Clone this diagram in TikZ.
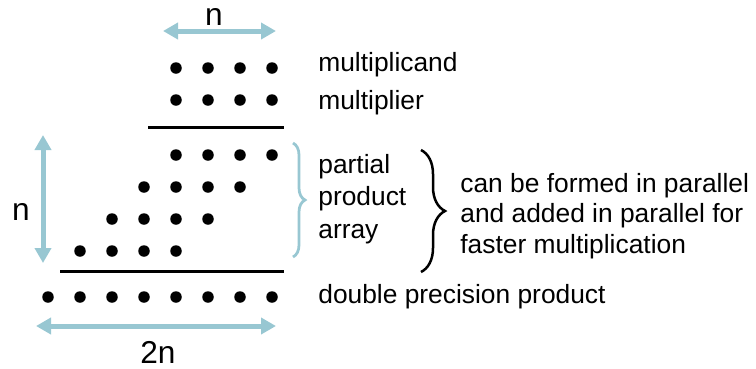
\documentclass[tikz,border=0pt]{standalone}
\usepackage{fontspec}
\setmainfont{Liberation Sans}
\definecolor{dimblue}{RGB}{152,199,210}
\definecolor{ink}{RGB}{0,0,0}
\usetikzlibrary{arrows.meta,decorations.pathreplacing}

\begin{document}
\begin{tikzpicture}[x=0.2mm, y=-0.2mm,
    bit/.style={circle, fill=ink, inner sep=0pt, minimum size=2.3mm},
    rule/.style={ink, line width=0.6mm},
    dimarrow/.style={dimblue, line width=1mm,
      {Triangle[length=3mm,width=3.2mm]}-{Triangle[length=3mm,width=3.2mm]}},
    dimlbl/.style={font=\fontsize{18}{20}\selectfont, inner sep=0pt},
    lbl/.style={font=\fontsize{15}{18.5}\selectfont, anchor=base west, inner sep=0pt, align=left}]
  \useasboundingbox (0,0) rectangle (756,368);
  % multiplicand and multiplier
  \foreach \i in {1,...,4} {
    \node[bit] (mc\i) at ({144+32*\i},68) {};
    \node[bit] (mp\i) at ({144+32*\i},100) {};
  }
  \coordinate (ruleAL) at (148,127);
  \coordinate (ruleAR) at (284,127);
  \draw[rule] (ruleAL) -- (ruleAR);
  % partial product array
  \foreach \r in {1,...,4}
    \foreach \i in {1,...,4}
      \node[bit] (pp\r\i) at ({144+32*\i-32*(\r-1)},{155+32*(\r-1)}) {};
  \coordinate (ruleBL) at (60,271);
  \coordinate (ruleBR) at (284,271);
  \draw[rule] (ruleBL) -- (ruleBR);
  % double precision product
  \foreach \i in {1,...,8}
    \node[bit] (dp\i) at ({16+32*\i},297) {};
  % widths
  \coordinate (nTopL) at (163,31);
  \coordinate (nTopR) at (276,31);
  \draw[dimarrow] (nTopL) -- (nTopR);
  \node[dimlbl] (nTop) at (214,17) {n};
  \coordinate (nLeftT) at (43,135);
  \coordinate (nLeftB) at (43,263);
  \draw[dimarrow] (nLeftT) -- (nLeftB);
  \node[dimlbl] (nLeft) at (21,212) {n};
  \coordinate (twoL) at (36,326);
  \coordinate (twoR) at (276,326);
  \draw[dimarrow] (twoL) -- (twoR);
  \node[dimlbl] (twoN) at (158,352) {2n};
  % labels
  \node[lbl] (mcand) at (318,71) {multiplicand};
  \node[lbl] (mplier) at (318,109) {multiplier};
  \node[lbl, anchor=west] (ppa) at (318,199) {partial\\product\\array};
  \node[lbl] (dpp) at (318,303) {double precision product};
  \coordinate (ppTop) at (293,143);
  \coordinate (ppBot) at (293,257);
  \draw[dimblue, line width=0.55mm, decorate, decoration={brace, amplitude=2.4mm}] (ppTop) -- (ppBot);
  \coordinate (whyTop) at (421,150);
  \coordinate (whyBot) at (421,272);
  \draw[ink, line width=0.5mm, decorate, decoration={brace, amplitude=4.8mm}] (whyTop) -- (whyBot);
  \node[lbl, anchor=west, font=\fontsize{15}{17.5}\selectfont] (why) at (460,216)
    {can be formed in parallel\\and added in parallel for\\faster multiplication};
\end{tikzpicture}
\end{document}
